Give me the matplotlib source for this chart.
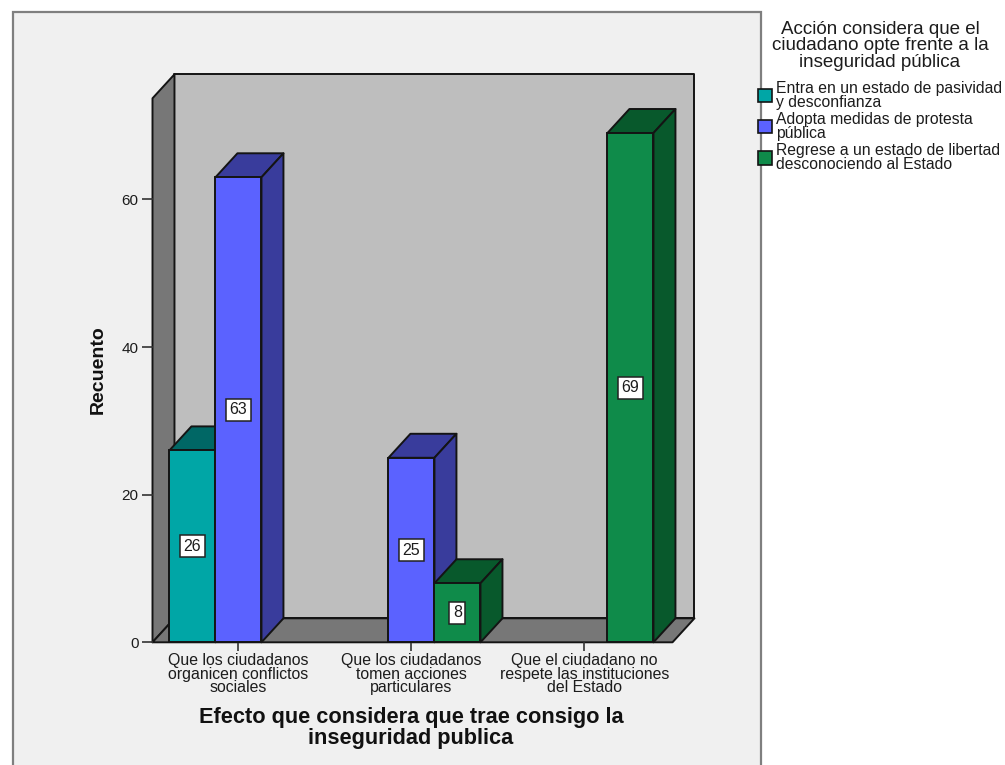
import matplotlib
matplotlib.use('Agg')
import matplotlib.pyplot as plt
from matplotlib.patches import Patch, Polygon, Rectangle

plt.rcParams['font.family'] = ['Liberation Sans', 'DejaVu Sans']

categorias = [
    'Que los ciudadanos\norganicen conflictos\nsociales',
    'Que los ciudadanos\ntomen acciones\nparticulares',
    'Que el ciudadano no\nrespete las instituciones\ndel Estado',
]
series = [
    'Entra en un estado de pasividad\ny desconfianza',
    'Adopta medidas de protesta\npública',
    'Regrese a un estado de libertad\ndesconociendo al Estado',
]
recuento_pasividad = [26, 0, 0]
recuento_protesta = [63, 25, 0]
recuento_libertad = [0, 8, 69]
yticks = [0, 20, 40, 60]

titulo_leyenda = 'Acción considera que el\nciudadano opte frente a la\ninseguridad pública'
titulo_x = 'Efecto que considera que trae consigo la\ninseguridad publica'
titulo_y = 'Recuento'

# colores: frente, lateral/tapa
colores = [('#00a6a6', '#006765'), ('#5b62ff', '#393c9c'), ('#0f8b4a', '#08592c')]

W, H = 1005, 765
TINTA = '#1c1c1c'
BORDE = '#141414'

fig = plt.figure(figsize=(W / 100, H / 100), dpi=100, facecolor='white')

# panel gris de fondo, sin borde abajo porque sale de la figura
fig.add_artist(Rectangle((13 / W, -0.02), 748 / W, 1 - 12 / H + 0.02, transform=fig.transFigure,
                         facecolor='#f0f0f0', edgecolor='#7f7f7f', linewidth=1.6, zorder=-1))

ax = fig.add_axes([152.5 / W, 1 - 642.3 / H, 520 / W, 544 / H])
ax.patch.set_visible(False)
x_min, x_max = -0.497, 2.509
y_min, y_max = 0, 73.7
ax.set_xlim(x_min, x_max)
ax.set_ylim(y_min, y_max)
for s in ax.spines.values():
    s.set_visible(False)

# profundidad de la caja 3D en unidades de datos
dx, dy = 0.127, 3.25
ancho = 0.266


def poli(puntos, color, z):
    ax.add_patch(Polygon(puntos, closed=True, facecolor=color, edgecolor=BORDE,
                         linewidth=1.4, joinstyle='round', clip_on=False, zorder=z))


# paredes y piso
poli([(x_min + dx, dy), (x_max + dx, dy), (x_max + dx, y_max + dy), (x_min + dx, y_max + dy)], '#bebebe', 1)
poli([(x_min, 0), (x_min + dx, dy), (x_min + dx, y_max + dy), (x_min, y_max)], '#777777', 1.1)
poli([(x_min, 0), (x_max, 0), (x_max + dx, dy), (x_min + dx, dy)], '#777777', 1.2)


def barra(x, valor, frente, lado, z):
    iz, de = x - ancho / 2, x + ancho / 2
    poli([(iz, valor), (de, valor), (de + dx, valor + dy), (iz + dx, valor + dy)], lado, z)
    poli([(de, 0), (de + dx, dy), (de + dx, valor + dy), (de, valor)], lado, z)
    ax.bar(x, valor, width=ancho, color=frente, edgecolor=BORDE, linewidth=1.4, zorder=z + 0.1, clip_on=False)
    ax.text(x, valor / 2, str(valor), ha='center', va='center', fontsize=11.5, color=TINTA, zorder=z + 0.2,
            bbox=dict(boxstyle='square,pad=0.22', facecolor='white', edgecolor='#222222', linewidth=1.1))


z = 2
for i in range(len(categorias)):
    for j, valores in enumerate([recuento_pasividad, recuento_protesta, recuento_libertad]):
        if valores[i] > 0:
            barra(i + (j - 1) * ancho, valores[i], colores[j][0], colores[j][1], z)
            z += 1

# ejes
ax.set_yticks(yticks)
ax.set_xticks(range(len(categorias)))
ax.set_xticklabels(categorias, fontsize=11.4, linespacing=0.87, color=TINTA)
ax.tick_params(axis='y', length=8, width=1.2, color='#333333', pad=2, labelsize=11, labelcolor=TINTA)
ax.tick_params(axis='x', length=6.5, width=1.2, color='#333333', pad=1.5)

fig.text(411 / W, 1 - 728 / H, titulo_x, ha='center', va='center', fontsize=15.7, fontweight='bold',
         linespacing=0.96, color='#111111')
fig.text(98 / W, 1 - 370 / H, titulo_y, ha='center', va='center', rotation=90, fontsize=14, fontweight='bold',
         color='#111111')

# leyenda: el titulo va aparte para dejarlo separado de las entradas
fig.text(880 / W, 1 - 46 / H, titulo_leyenda, ha='center', va='center', fontsize=13.5, linespacing=0.98,
         color=TINTA)
handles = [Patch(facecolor=c[0], edgecolor=BORDE, linewidth=1.2) for c in colores]
leg = fig.legend(handles, series, loc='upper left', bbox_to_anchor=(758 / W, 1 - 81 / H),
                 bbox_transform=fig.transFigure, frameon=False, borderpad=0, borderaxespad=0,
                 handlelength=0.9, handleheight=0.9, handletextpad=0.25, labelspacing=0.15,
                 fontsize=11.35, labelcolor=TINTA)
for t in leg.get_texts():
    t.set_linespacing(0.89)

fig.savefig('out.png', dpi=100)
